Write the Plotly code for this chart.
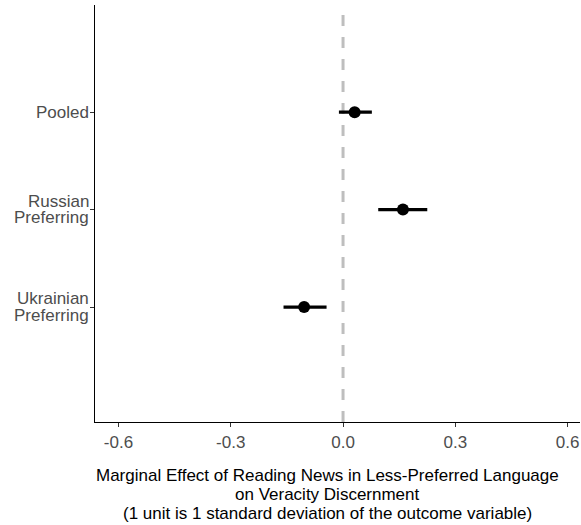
import plotly.graph_objects as go

# Marginal effects with 95% confidence intervals, by subgroup
group_lines = [["Pooled"], ["Russian", "Preferring"], ["Ukrainian", "Preferring"]]
group_pos = [3, 2, 1]
estimate = [0.031, 0.160, -0.104]
ci_low = [-0.011, 0.094, -0.159]
ci_high = [0.077, 0.225, -0.044]

x_ticks = [-0.6, -0.3, 0.0, 0.3, 0.6]
x_tick_labels = ["-0.6", "-0.3", "0.0", "0.3", "0.6"]
null_effect = 0.0

x_title_lines = [
    "Marginal Effect of Reading News in Less-Preferred Language",
    "on Veracity Discernment",
    "(1 unit is 1 standard deviation of the outcome variable)",
]

err_plus = [h - e for h, e in zip(ci_high, estimate)]
err_minus = [e - l for e, l in zip(estimate, ci_low)]

font_family = "Liberation Sans, Arial, Helvetica, sans-serif"
label_grey = "#4d4d4d"

fig = go.Figure()

# reference line at zero effect
fig.add_vline(x=null_effect, line=dict(color="#bebebe", width=3, dash="11px,11px"), layer="below")

fig.add_trace(go.Scatter(
    x=estimate,
    y=group_pos,
    mode="markers",
    marker=dict(color="black", size=12),
    error_x=dict(type="data", symmetric=False, array=err_plus, arrayminus=err_minus,
                 color="black", thickness=3.2, width=0),
    showlegend=False,
    hoverinfo="x+y",
))

annotations = []
# category labels, one annotation per line for tight line spacing
line_gap = 16.7
for pos, lines in zip(group_pos, group_lines):
    n = len(lines)
    for i, txt in enumerate(lines):
        offset = ((n - 1) / 2 - i) * line_gap
        annotations.append(dict(
            text=txt, xref="paper", x=0, xanchor="right", xshift=-4,
            yref="y", y=pos, yanchor="middle", yshift=offset,
            showarrow=False, font=dict(size=17, color=label_grey),
        ))

# multi-line x-axis title
for i, txt in enumerate(x_title_lines):
    annotations.append(dict(
        text=txt, xref="paper", x=0.479, xanchor="center",
        yref="paper", y=0, yanchor="middle", yshift=-53 - 19.2 * i,
        showarrow=False, font=dict(size=17, color="black"),
    ))

fig.update_layout(
    width=581,
    height=525,
    margin=dict(l=95, r=1, t=5, b=103),
    plot_bgcolor="white",
    paper_bgcolor="white",
    font=dict(family=font_family, size=17, color=label_grey),
    annotations=annotations,
    xaxis=dict(
        range=[-0.6626, 0.633],
        tickvals=x_ticks,
        ticktext=x_tick_labels,
        showgrid=False,
        zeroline=False,
        showline=True,
        linecolor="black",
        linewidth=1.2,
        ticks="outside",
        ticklen=4,
        tickwidth=1,
        tickcolor="#333333",
        tickfont=dict(size=17, color=label_grey),
    ),
    yaxis=dict(
        range=[-0.18, 4.1],
        tickvals=group_pos,
        showticklabels=False,
        showgrid=False,
        zeroline=False,
        showline=True,
        linecolor="black",
        linewidth=1.2,
        ticks="outside",
        ticklen=4,
        tickwidth=1,
        tickcolor="#333333",
    ),
)

fig.write_html("out.html")
